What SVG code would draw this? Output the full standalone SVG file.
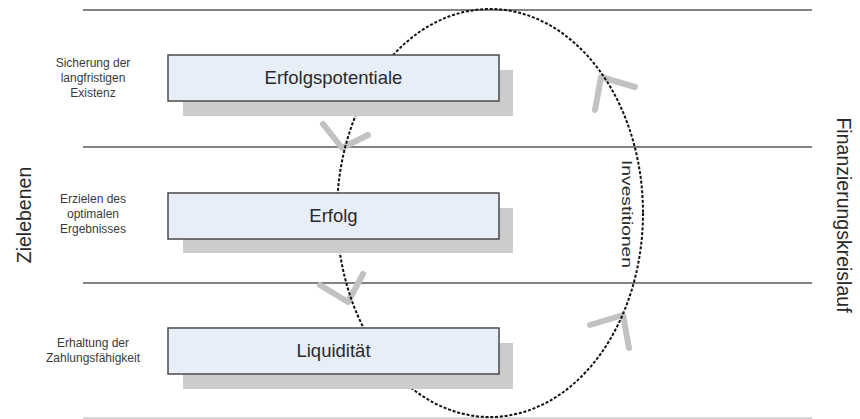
<svg xmlns="http://www.w3.org/2000/svg" width="860" height="419" viewBox="0 0 860 419">
<style>
.lane{stroke:#5a5a5a;stroke-width:1.5}
.shadow{fill:#cccccc}
.box{fill:#e7eef8;stroke:#4a4a4a;stroke-width:1.5}
.boxtxt{font-family:"Liberation Sans",Arial,sans-serif;font-size:18.5px;fill:#2a2a2a;text-anchor:middle}
.lbl{font-family:"Liberation Sans",Arial,sans-serif;font-size:12px;fill:#3a3a3a;text-anchor:middle}
.big{font-family:"Liberation Sans",Arial,sans-serif;font-size:19.5px;fill:#2a2a2a;text-anchor:middle}
.loop{fill:none;stroke:#111;stroke-width:2;stroke-dasharray:3 1.8}
.head{fill:none;stroke:#c2c2c2;stroke-width:6;stroke-linecap:round;stroke-linejoin:round}
</style>
<rect width="860" height="419" fill="#ffffff"/>
<g id="lanes">
<line class="lane" x1="83" y1="10" x2="812" y2="10"/>
<line class="lane" x1="83" y1="147" x2="812" y2="147"/>
<line class="lane" x1="83" y1="283" x2="812" y2="283"/>
<line x1="83" y1="418" x2="812" y2="418" stroke="#c8c8c8" stroke-width="1.5"/>
</g>
<g id="connectors">
<polyline class="head" points="323,124 342,148 368,135"/>
<polyline class="head" points="595,110 601,77 635,87"/>
<polyline class="head" points="320,285 348,302 363,274"/>
<polyline class="head" points="590,325 623,315 629,348"/>
<ellipse class="loop" cx="490" cy="213" rx="153" ry="204"/>
</g>
<g id="node-erfolgspotentiale">
<rect class="shadow" x="183" y="70" width="330" height="46"/>
<rect class="box" x="168" y="55" width="331" height="46"/>
<text class="boxtxt" x="333.5" y="84">Erfolgspotentiale</text>
</g>
<g id="node-erfolg">
<rect class="shadow" x="183" y="208" width="330" height="45"/>
<rect class="box" x="168" y="193" width="331" height="46"/>
<text class="boxtxt" x="333.5" y="222">Erfolg</text>
</g>
<g id="node-liquiditaet">
<rect class="shadow" x="183" y="343" width="330" height="46"/>
<rect class="box" x="168" y="328" width="331" height="46"/>
<text class="boxtxt" x="333.5" y="357">Liquidität</text>
</g>
<g id="label-existenz">
<text class="lbl" x="93" y="67">Sicherung der</text>
<text class="lbl" x="93" y="82">langfristigen</text>
<text class="lbl" x="93" y="97">Existenz</text>
</g>
<g id="label-ergebnis">
<text class="lbl" x="93" y="203">Erzielen des</text>
<text class="lbl" x="93" y="218">optimalen</text>
<text class="lbl" x="93" y="233">Ergebnisses</text>
</g>
<g id="label-zahlung">
<text class="lbl" x="93" y="347">Erhaltung der</text>
<text class="lbl" x="93" y="362">Zahlungsfähigkeit</text>
</g>
<g id="label-zielebenen">
<text class="big" font-size="20" transform="translate(31,215) rotate(-90)" x="0" y="0">Zielebenen</text>
</g>
<g id="label-finanzierungskreislauf">
<text class="big" transform="translate(837,215) rotate(90)" x="0" y="0">Finanzierungskreislauf</text>
</g>
<g id="label-investitionen">
<text class="big" style="font-size:15px" transform="translate(622,214) rotate(90)" x="0" y="0" textLength="108" lengthAdjust="spacingAndGlyphs">Investitionen</text>
</g>
</svg>
